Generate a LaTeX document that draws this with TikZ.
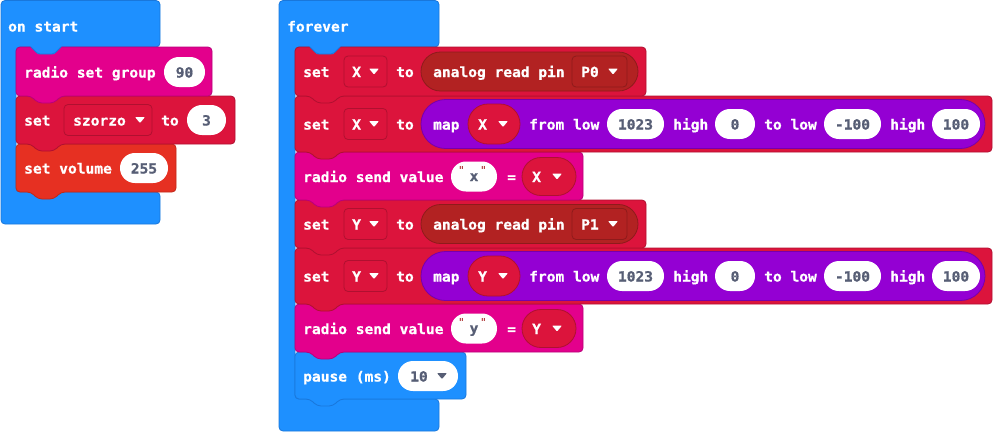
\documentclass[tikz,border=0pt]{standalone}
\usepackage{fontspec}
\newfontfamily\blk{DejaVu Sans Mono Bold}[FakeStretch=1.04,FakeBold=0.8,Ligatures=TeXOff]
\newfontfamily\qfont{DejaVu Sans Mono}[Ligatures=TeXOff]
\definecolor{cblue}{HTML}{1E90FF}
\definecolor{cblueb}{HTML}{1977DB}
\definecolor{cmag}{HTML}{E3008C}
\definecolor{cmagb}{HTML}{B8007A}
\definecolor{ccrim}{HTML}{DC143C}
\definecolor{ccrimb}{HTML}{B01030}
\definecolor{cvol}{HTML}{E63022}
\definecolor{cvolb}{HTML}{C02818}
\definecolor{cfire}{HTML}{B22222}
\definecolor{cfireb}{HTML}{8E1B1B}
\definecolor{cpurp}{HTML}{9400D3}
\definecolor{cpurpb}{HTML}{7700AA}
\definecolor{ctxt}{HTML}{575E75}
\definecolor{cquote}{HTML}{A31515}
\tikzset{
  wt/.style={font=\blk\fontsize{14}{16}\selectfont, text=white, anchor=base west, inner sep=0pt},
  gt/.style={font=\blk\fontsize{14}{16}\selectfont, text=ctxt, anchor=base, inner sep=0pt},
  gtw/.style={gt, anchor=base west},
  qt/.style={font=\qfont\fontsize{11}{12}\selectfont, text=cquote, anchor=north, inner sep=0pt},
  edge/.style={line width=0.8pt}
}
% statement block with bottom tab: x1,y1,x2,y2,fill,border
\newcommand\stmt[6]{\filldraw[fill=#5,draw=#6,edge,rounded corners=4pt] (#1,#2) -- (#3,#2) -- (#3,#4) -- (#1+45,#4) -- (#1+38,#4+7) -- (#1+22,#4+7) -- (#1+15,#4) -- (#1,#4) -- cycle;}
% C block: x1, x2, armx, header bottom, inner bottom, bottom
\newcommand\cblock[6]{\filldraw[fill=cblue,draw=cblueb,edge,rounded corners=4pt] (#1,0.5) -- (#2,0.5) -- (#2,#4) -- (#3,#4) -- (#3,#5) -- (#2,#5) -- (#2,#6) -- (#1,#6) -- cycle;}
% header tab: armx, y
\newcommand\htab[2]{\fill[cblue] (#1+14,#2-1.5) -- (#1+15,#2) -- (#1+22,#2+7) -- (#1+38,#2+7) -- (#1+45,#2) -- (#1+46,#2-1.5) -- cycle;
  \draw[cblueb,edge,rounded corners=2pt] (#1+15,#2) -- (#1+22,#2+7) -- (#1+38,#2+7) -- (#1+45,#2);}
% field box: x1,x2,yc,fill,border
\newcommand\field[5]{\filldraw[fill=#4,draw=#5,edge,rounded corners=4pt] (#1,#3-15.5) rectangle (#2,#3+15.5);}
% reporter: x1,x2,yc,half height,fill,border
\newcommand\rep[6]{\filldraw[fill=#5,draw=#6,edge,rounded corners=#4pt] (#1,#3-#4) rectangle (#2,#3+#4);}
% white pill: x1,x2,yc,text,name
\newcommand\pill[5]{\fill[white,rounded corners=14.9pt] (#1,#3-15) rectangle (#2,#3+15);
  \node[gt] (#5) at ({(#1+#2)/2},#3+5.5) {#4};}
% dropdown triangle: x,yc,colour
\newcommand\tri[3]{\fill[#3,rounded corners=0.8pt] (#1,#2-3) -- (#1+10,#2-3) -- (#1+5,#2+3) -- cycle;}
% rows
\newcommand\analogrow[4]{%
  \node[wt] (set#4) at (303,#1+5.5) {set};
  \field{344}{387}{#1}{ccrim}{ccrimb}
  \node[wt] (var#4) at (352,#1+5.5) {#2};
  \tri{369}{#1}{white}
  \node[wt] (to#4) at (396,#1+5.5) {to};
  \rep{421}{638}{#1}{19.5}{cfire}{cfireb}
  \node[wt] (ar#4) at (433,#1+5.5) {analog read pin};
  \field{572}{627}{#1}{cfire}{cfireb}
  \node[wt] (pin#4) at (581,#1+5.5) {#3};
  \tri{608}{#1}{white}}
\newcommand\maprow[3]{%
  \node[wt] (mset#3) at (303,#1+5.5) {set};
  \field{344}{387}{#1}{ccrim}{ccrimb}
  \node[wt] (mvar#3) at (352,#1+5.5) {#2};
  \tri{369}{#1}{white}
  \node[wt] (mto#3) at (396,#1+5.5) {to};
  \rep{421}{985}{#1}{24.5}{cpurp}{cpurpb}
  \node[wt] (map#3) at (433,#1+5.5) {map};
  \rep{468}{520}{#1}{20}{ccrim}{ccrimb}
  \node[wt] (mv#3) at (478,#1+5.5) {#2};
  \tri{498}{#1}{white}
  \node[wt] (fl#3) at (529,#1+5.5) {from low};
  \pill{607}{664}{#1}{1023}{p1023#3}
  \node[wt] (hi#3) at (673,#1+5.5) {high};
  \pill{715}{755}{#1}{0}{p0#3}
  \node[wt] (tl#3) at (764,#1+5.5) {to low};
  \pill{824}{881}{#1}{-100}{pm100#3}
  \node[wt] (hb#3) at (890,#1+5.5) {high};
  \pill{932}{980}{#1}{100}{p100#3}}
\newcommand\sendrow[4]{%
  \node[wt] (rs#4) at (303,#1+5.5) {radio send value};
  \fill[white,rounded corners=14.9pt] (451,#1-15) rectangle (497,#1+15);
  \node[qt] (qa#4) at (461.5,#1-10) {"};
  \node[qt] (qb#4) at (483.5,#1-10) {"};
  \node[gt] (s#4) at (474,#1+4.5) {#2};
  \node[wt] (eq#4) at (507,#1+5.5) {=};
  \rep{522}{576}{#1}{19}{ccrim}{ccrimb}
  \node[wt] (sv#4) at (532,#1+5.5) {#3};
  \tri{552}{#1}{white}}
\begin{document}
\begin{tikzpicture}[x=1pt,y=-1pt]
\useasboundingbox (0,0) rectangle (993,432);
% ---------- on start ----------
\cblock{1}{160}{16}{47}{192}{224}
\stmt{16}{144}{176}{192}{cvol}{cvolb}
\stmt{16}{96}{235}{144}{ccrim}{ccrimb}
\stmt{16}{47}{212}{96}{cmag}{cmagb}
\htab{16}{47}
\node[wt] (onstart) at (8,31.5) {on start};
\node[wt] (rsg) at (24,77.5) {radio set group};
\pill{164}{205}{72}{90}{p90}
\node[wt] (setsz) at (24,125.5) {set};
\field{64}{152}{120}{ccrim}{ccrimb}
\node[wt] (szorzo) at (73,125.5) {szorzo};
\tri{135}{120}{white}
\node[wt] (tosz) at (161,125.5) {to};
\pill{187}{226}{120}{3}{p3}
\node[wt] (setvol) at (24,173.5) {set volume};
\pill{120}{168}{168}{255}{p255}
% ---------- forever ----------
\cblock{279}{439}{295}{47}{399}{431}
\stmt{295}{352}{466}{399}{cblue}{cblueb}
\stmt{295}{304}{583}{352}{cmag}{cmagb}
\stmt{295}{248}{992}{304}{ccrim}{ccrimb}
\stmt{295}{200}{646}{248}{ccrim}{ccrimb}
\stmt{295}{152}{583}{200}{cmag}{cmagb}
\stmt{295}{96}{992}{152}{ccrim}{ccrimb}
\stmt{295}{47}{646}{96}{ccrim}{ccrimb}
\htab{295}{47}
\node[wt] (forever) at (287,31.5) {forever};
\analogrow{71.5}{X}{P0}{a}
\maprow{124}{X}{a}
\sendrow{176.5}{x}{X}{a}
\analogrow{224}{Y}{P1}{b}
\maprow{276}{Y}{b}
\sendrow{328.5}{y}{Y}{b}
\node[wt] (pause) at (303,381.5) {pause (ms)};
\fill[white,rounded corners=14.9pt] (398,361) rectangle (458,391);
\node[gtw] (p10) at (410,381.5) {10};
\tri{437}{376}{ctxt}
\end{tikzpicture}
\end{document}
